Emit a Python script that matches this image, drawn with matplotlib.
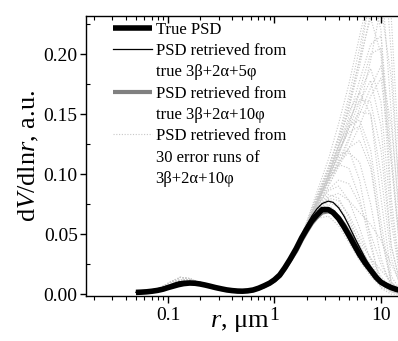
import matplotlib
matplotlib.use("Agg")
import matplotlib.pyplot as plt
from matplotlib.lines import Line2D
from matplotlib.ticker import FixedLocator, NullFormatter, FixedFormatter

plt.rcParams['font.family'] = ['Liberation Serif', 'DejaVu Serif']
plt.rcParams['mathtext.fontset'] = 'custom'
plt.rcParams['mathtext.rm'] = 'Liberation Serif'
plt.rcParams['mathtext.it'] = 'Liberation Serif:italic'

# ---- data ----
# fine radius grid (um) for the three main curves
r_fine = [0.05, 0.056, 0.063, 0.071, 0.08, 0.09, 0.1, 0.112, 0.125, 0.14, 0.16, 0.18, 0.2, 0.224,
          0.25, 0.28, 0.32, 0.355, 0.4, 0.45, 0.5, 0.56,
          0.63, 0.71, 0.8, 0.9, 1.0, 1.12, 1.25, 1.4, 1.6, 1.8, 2.0, 2.24, 2.5, 2.8, 3.2, 3.55,
          4.0, 4.5, 5.0, 5.6, 6.3, 7.1, 8.0, 9.0, 10.0, 11.2, 12.5, 14.0, 16.0]

true_psd = [0.0015, 0.0017, 0.002, 0.0025, 0.0032, 0.0042, 0.0055, 0.0067, 0.0079, 0.0088, 0.0093,
            0.0091, 0.0085, 0.0076, 0.0066, 0.0055, 0.0044, 0.0036, 0.003, 0.0026, 0.0025, 0.0028,
            0.0035, 0.005, 0.007, 0.0092, 0.012, 0.016, 0.022, 0.029, 0.038, 0.047, 0.054, 0.061,
            0.066, 0.0705, 0.0705, 0.068, 0.063, 0.056, 0.049, 0.041, 0.033, 0.026, 0.020, 0.014,
            0.010, 0.0075, 0.0055, 0.004, 0.003]
psd_5phi = [0.0015, 0.0017, 0.002, 0.0027, 0.0036, 0.005, 0.0068, 0.0088, 0.0102, 0.0108, 0.0106,
            0.0098, 0.0089, 0.0078, 0.0066, 0.0054, 0.0042, 0.0034, 0.0028, 0.0025, 0.0025, 0.0028,
            0.0035, 0.005, 0.007, 0.0093, 0.012, 0.016, 0.023, 0.030, 0.039, 0.049, 0.057, 0.065,
            0.071, 0.0755, 0.0775, 0.0765, 0.072, 0.065, 0.057, 0.048, 0.039, 0.030, 0.022, 0.015,
            0.010, 0.007, 0.005, 0.0035, 0.002]
psd_10phi = [0.0015, 0.0017, 0.002, 0.0026, 0.0034, 0.0045, 0.0059, 0.0072, 0.0084, 0.0092, 0.0096,
             0.0093, 0.0086, 0.0076, 0.0065, 0.0054, 0.0043, 0.0035, 0.0029, 0.0026, 0.0025, 0.0028,
             0.0035, 0.005, 0.0068, 0.009, 0.0115, 0.015, 0.021, 0.028, 0.036, 0.045, 0.052, 0.059,
             0.064, 0.068, 0.069, 0.068, 0.064, 0.058, 0.051, 0.044, 0.036, 0.028, 0.021, 0.015,
             0.010, 0.007, 0.005, 0.0035, 0.002]

# coarse grid for the 30 error runs
r_small = [0.05, 0.065, 0.08, 0.1, 0.13, 0.16, 0.2, 0.25, 0.32, 0.4, 0.5]
r_main = [0.63, 0.8, 1.0, 1.25, 1.6, 2.0, 2.5, 3.2, 4.0, 5.0, 6.3, 8.0, 10.0, 12.5, 16.0]
err_small = [
    [0.0015, 0.002, 0.003, 0.006, 0.010, 0.011, 0.009, 0.0065, 0.004, 0.003, 0.003],
    [0.0015, 0.002, 0.004, 0.009, 0.014, 0.013, 0.009, 0.006, 0.004, 0.003, 0.003],
    [0.0015, 0.002, 0.003, 0.005, 0.008, 0.0095, 0.009, 0.007, 0.0045, 0.003, 0.003],
    [0.0015, 0.0025, 0.004, 0.008, 0.012, 0.012, 0.010, 0.007, 0.004, 0.0028, 0.003],
    [0.0015, 0.002, 0.0035, 0.007, 0.011, 0.010, 0.008, 0.006, 0.004, 0.003, 0.003],
]
err_main = [
    [0.0035, 0.007, 0.012, 0.023, 0.040, 0.057, 0.069, 0.075, 0.066, 0.050, 0.033, 0.018, 0.008, 0.003, 0.001],
    [0.0035, 0.007, 0.012, 0.022, 0.040, 0.058, 0.072, 0.083, 0.080, 0.064, 0.042, 0.022, 0.008, 0.002, 0.000],
    [0.0035, 0.006, 0.011, 0.022, 0.039, 0.057, 0.073, 0.086, 0.090, 0.078, 0.055, 0.028, 0.010, 0.003, 0.000],
    [0.0035, 0.006, 0.011, 0.021, 0.038, 0.058, 0.077, 0.095, 0.108, 0.105, 0.080, 0.040, 0.010, 0.002, 0.000],
    [0.003, 0.006, 0.011, 0.021, 0.038, 0.058, 0.078, 0.098, 0.115, 0.120, 0.095, 0.045, 0.005, 0.000, 0.000],
    [0.004, 0.007, 0.012, 0.023, 0.039, 0.054, 0.063, 0.065, 0.057, 0.043, 0.028, 0.015, 0.006, 0.002, 0.000],
    [0.003, 0.006, 0.011, 0.021, 0.037, 0.057, 0.078, 0.100, 0.120, 0.135, 0.140, 0.110, 0.050, 0.010, 0.000],
    [0.003, 0.006, 0.011, 0.021, 0.037, 0.056, 0.076, 0.097, 0.118, 0.138, 0.152, 0.150, 0.100, 0.030, 0.000],
    [0.003, 0.006, 0.010, 0.020, 0.036, 0.055, 0.075, 0.096, 0.118, 0.142, 0.168, 0.188, 0.160, 0.060, 0.000],
    [0.003, 0.006, 0.010, 0.020, 0.036, 0.055, 0.074, 0.094, 0.116, 0.140, 0.170, 0.200, 0.205, 0.110, 0.010],
    [0.003, 0.006, 0.010, 0.020, 0.036, 0.056, 0.078, 0.100, 0.126, 0.155, 0.190, 0.235, 0.270, 0.150, 0.020],
    [0.003, 0.005, 0.010, 0.019, 0.035, 0.054, 0.075, 0.098, 0.124, 0.156, 0.196, 0.250, 0.310, 0.200, 0.030],
    [0.003, 0.006, 0.011, 0.021, 0.038, 0.060, 0.085, 0.112, 0.142, 0.175, 0.215, 0.255, 0.220, 0.080, 0.000],
    [0.003, 0.006, 0.011, 0.021, 0.038, 0.059, 0.082, 0.106, 0.130, 0.152, 0.168, 0.150, 0.080, 0.015, 0.000],
    [0.003, 0.006, 0.011, 0.022, 0.039, 0.058, 0.076, 0.094, 0.110, 0.122, 0.128, 0.105, 0.050, 0.008, 0.000],
    [0.0035, 0.007, 0.012, 0.022, 0.039, 0.056, 0.070, 0.080, 0.078, 0.066, 0.048, 0.030, 0.015, 0.005, 0.000],
    [0.003, 0.006, 0.011, 0.021, 0.037, 0.055, 0.073, 0.090, 0.106, 0.122, 0.140, 0.165, 0.180, 0.110, 0.020],
    [0.003, 0.006, 0.010, 0.020, 0.036, 0.054, 0.072, 0.090, 0.108, 0.128, 0.155, 0.195, 0.240, 0.180, 0.040],
    [0.003, 0.006, 0.011, 0.021, 0.038, 0.058, 0.080, 0.104, 0.130, 0.160, 0.195, 0.230, 0.200, 0.070, 0.000],
    [0.0035, 0.007, 0.012, 0.023, 0.040, 0.058, 0.072, 0.079, 0.074, 0.060, 0.044, 0.030, 0.020, 0.010, 0.002],
    [0.003, 0.006, 0.011, 0.021, 0.037, 0.056, 0.075, 0.094, 0.110, 0.118, 0.110, 0.075, 0.030, 0.005, 0.000],
    [0.003, 0.006, 0.010, 0.020, 0.036, 0.055, 0.074, 0.093, 0.112, 0.130, 0.150, 0.172, 0.190, 0.140, 0.040],
    [0.003, 0.006, 0.011, 0.021, 0.038, 0.057, 0.077, 0.097, 0.117, 0.138, 0.160, 0.178, 0.140, 0.040, 0.000],
    [0.0035, 0.006, 0.011, 0.022, 0.039, 0.057, 0.073, 0.087, 0.095, 0.092, 0.075, 0.050, 0.025, 0.008, 0.000],
    [0.003, 0.006, 0.010, 0.020, 0.036, 0.056, 0.079, 0.104, 0.132, 0.165, 0.205, 0.250, 0.290, 0.230, 0.060],
    [0.003, 0.006, 0.011, 0.021, 0.038, 0.058, 0.079, 0.101, 0.123, 0.145, 0.162, 0.160, 0.120, 0.040, 0.000],
    [0.0035, 0.007, 0.012, 0.022, 0.039, 0.057, 0.071, 0.081, 0.084, 0.078, 0.068, 0.058, 0.045, 0.025, 0.005],
    [0.003, 0.006, 0.011, 0.021, 0.037, 0.056, 0.076, 0.098, 0.122, 0.148, 0.178, 0.208, 0.215, 0.120, 0.010],
    [0.003, 0.006, 0.011, 0.022, 0.039, 0.059, 0.081, 0.103, 0.124, 0.140, 0.145, 0.120, 0.060, 0.010, 0.000],
    [0.0035, 0.007, 0.012, 0.023, 0.040, 0.057, 0.070, 0.077, 0.072, 0.058, 0.040, 0.024, 0.012, 0.004, 0.000],
]

x_ticks = [0.1, 1, 10]
x_tick_labels = ['0.1', '1', '10']
y_ticks = [0.00, 0.05, 0.10, 0.15, 0.20]
y_tick_labels = ['0.00', '0.05', '0.10', '0.15', '0.20']

legend_labels = ['True PSD', 'PSD retrieved from', 'true 3β+2α+5φ', 'PSD retrieved from',
                 'true 3β+2α+10φ', 'PSD retrieved from', '30 error runs of', '3β+2α+10φ']

# ---- figure ----
W, H = 398, 341
fig = plt.figure(figsize=(W / 100, H / 100), dpi=100)
ax = fig.add_axes([86 / W, 45 / H, (406 - 86) / W, (325 - 45) / H])

r_coarse = r_small + r_main
err_color = '#c8c8c8'
err_ls = (0, (1, 1.5))
thick_lw, grey_lw, thin_lw = 4.0, 3.0, 0.9
for i, m in enumerate(err_main):
    ax.plot(r_coarse, err_small[i % len(err_small)] + m, ls=err_ls, lw=0.8, color=err_color, zorder=1)
ax.plot(r_fine, psd_10phi, color='#808080', lw=grey_lw, zorder=2, solid_capstyle='butt')
ax.plot(r_fine, true_psd, color='black', lw=thick_lw, zorder=3, solid_capstyle='butt')
ax.plot(r_fine, psd_5phi, color='black', lw=thin_lw, zorder=4)

ax.set_xscale('log')
ax.set_xlim(10 ** -1.77, 10 ** 1.235)
ax.set_ylim(-0.0015, 0.2317)

ax.xaxis.set_major_locator(FixedLocator(x_ticks))
ax.xaxis.set_major_formatter(FixedFormatter(x_tick_labels))
minors = [b * m for b in (0.01, 0.1, 1, 10) for m in range(2, 10)]
ax.xaxis.set_minor_locator(FixedLocator(minors))
ax.xaxis.set_minor_formatter(NullFormatter())
ax.yaxis.set_major_locator(FixedLocator(y_ticks))
ax.yaxis.set_major_formatter(FixedFormatter(y_tick_labels))
ax.yaxis.set_minor_locator(FixedLocator([0.025, 0.075, 0.125, 0.175, 0.225]))

ax.tick_params(axis='x', which='major', direction='out', length=5, width=1, labelsize=14, pad=3)
ax.tick_params(axis='x', which='minor', direction='out', length=3, width=0.8)
ax.tick_params(axis='y', which='major', direction='out', length=4, width=1, labelsize=14, pad=2)
ax.tick_params(axis='y', which='minor', direction='in', length=3, width=0.8)
ax.spines['right'].set_visible(False)
for s in ('left', 'bottom', 'top'):
    ax.spines[s].set_linewidth(1.0)

ax2 = ax.twiny()
ax2.set_xscale('log')
ax2.set_xlim(ax.get_xlim())
ax2.xaxis.set_major_locator(FixedLocator(x_ticks))
ax2.xaxis.set_minor_locator(FixedLocator(minors))
ax2.xaxis.set_major_formatter(NullFormatter())
ax2.xaxis.set_minor_formatter(NullFormatter())
ax2.tick_params(axis='x', which='major', direction='in', length=5, width=1)
ax2.tick_params(axis='x', which='minor', direction='in', length=3, width=0.8)
for s in ax2.spines.values():
    s.set_visible(False)

ax.set_ylabel(r'd$\mathit{V}$/dln$\mathit{r}$, a.u.', fontsize=19, labelpad=2)
fig.text(240 / W, 1 - 327 / H, r'$\mathit{r}$, μm', fontsize=19, ha='center', va='baseline')

handles = [
    Line2D([], [], color='black', lw=thick_lw, solid_capstyle='butt'),
    Line2D([], [], color='black', lw=thin_lw),
    Line2D([], [], color='none'),
    Line2D([], [], color='#808080', lw=grey_lw, solid_capstyle='butt'),
    Line2D([], [], color='none'),
    Line2D([], [], color=err_color, lw=0.8, ls=err_ls),
    Line2D([], [], color='none'),
    Line2D([], [], color='none'),
]
leg = fig.legend(handles, legend_labels, loc='upper left', bbox_to_anchor=(113 / W, 1 - 22 / H),
                 frameon=False, fontsize=12, handlelength=2.35, handletextpad=0.2,
                 labelspacing=0.315, borderpad=0, borderaxespad=0)

fig.savefig('out.png', dpi=100)
